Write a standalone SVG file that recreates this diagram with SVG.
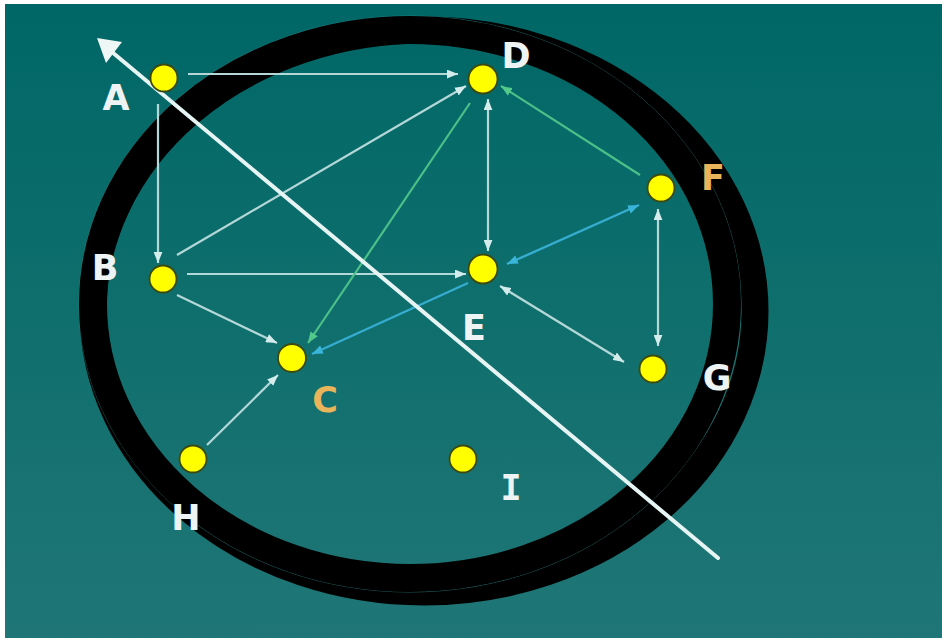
<svg xmlns="http://www.w3.org/2000/svg" width="942" height="639" viewBox="0 0 942 639">
<defs>
<linearGradient id="bg" x1="0" y1="0" x2="0" y2="1">
<stop offset="0" stop-color="#006766"/>
<stop offset="0.5" stop-color="#0f6f6d"/>
<stop offset="1" stop-color="#207676"/>
</linearGradient>
<marker id="mL" viewBox="0 0 10 8" refX="10" refY="4" markerWidth="11" markerHeight="9" markerUnits="userSpaceOnUse" orient="auto-start-reverse"><path d="M0,0 L10,4 L0,8 z" fill="#d4ecec"/></marker>
<marker id="mG" viewBox="0 0 10 8" refX="10" refY="4" markerWidth="11" markerHeight="9" markerUnits="userSpaceOnUse" orient="auto-start-reverse"><path d="M0,0 L10,4 L0,8 z" fill="#52c88a"/></marker>
<marker id="mB" viewBox="0 0 10 8" refX="10" refY="4" markerWidth="11" markerHeight="9" markerUnits="userSpaceOnUse" orient="auto-start-reverse"><path d="M0,0 L10,4 L0,8 z" fill="#3ab4d8"/></marker>
</defs>
<style>
.ring{fill:none;stroke:#000}
.node{fill:#ffff00;stroke:#3c4a10;stroke-width:1.8}
.lbl{font-family:"DejaVu Sans","Liberation Sans",sans-serif;font-weight:bold;font-size:35px;text-anchor:middle;fill:#eef4f4}
.or{fill:#eab45a}
.lt{stroke:#b4d8d8;stroke-width:2.2;fill:none}
.gr{stroke:#4cc088;stroke-width:2.2;fill:none}
.bl{stroke:#36acd0;stroke-width:2.4;fill:none}
</style>
<rect x="0" y="0" width="942" height="639" fill="#ffffff"/>
<rect x="5" y="4" width="937" height="634" fill="url(#bg)"/>
<g id="ring">
<ellipse class="ring" cx="424" cy="311" rx="331" ry="281" stroke-width="27"/>
<ellipse cx="410" cy="304" rx="331" ry="288" fill="none" stroke="#2a8484" stroke-width="1" opacity="0.7"/>
<ellipse class="ring" cx="410" cy="304" rx="317" ry="274" stroke-width="28"/>
</g>
<g id="connectors">
<line class="lt" x1="188" y1="74" x2="458" y2="74" marker-end="url(#mL)"/>
<line class="lt" x1="158" y1="104" x2="158" y2="263" marker-end="url(#mL)"/>
<line class="lt" x1="177" y1="255" x2="466" y2="86" marker-end="url(#mL)"/>
<line class="lt" x1="187" y1="274" x2="466" y2="274" marker-end="url(#mL)"/>
<line class="lt" x1="177" y1="295" x2="277" y2="343" marker-end="url(#mL)"/>
<line class="lt" x1="207" y1="445" x2="278" y2="375" marker-end="url(#mL)"/>
<line class="gr" x1="470" y1="103" x2="308" y2="343" marker-end="url(#mG)"/>
<line class="gr" x1="640" y1="175" x2="501" y2="86" marker-end="url(#mG)"/>
<line class="lt" x1="488" y1="99" x2="488" y2="251" marker-start="url(#mL)" marker-end="url(#mL)"/>
<line class="bl" x1="507" y1="264" x2="639" y2="205" marker-start="url(#mB)" marker-end="url(#mB)"/>
<line class="bl" x1="468" y1="283" x2="312" y2="354" marker-end="url(#mB)"/>
<line class="lt" x1="500" y1="286" x2="624" y2="362" marker-start="url(#mL)" marker-end="url(#mL)"/>
<line class="lt" x1="658" y1="209" x2="658" y2="346" marker-start="url(#mL)" marker-end="url(#mL)"/>
<line x1="718" y1="558" x2="112" y2="52" stroke="#e6f4f4" stroke-width="4" stroke-linecap="round"/>
<polygon points="97,38 122,42 106,63" fill="#eef6f6"/>
</g>
<g id="A"><circle class="node" cx="164" cy="78" r="13.5"/><text class="lbl" x="116" y="110">A</text></g>
<g id="D"><circle class="node" cx="483" cy="79" r="14.5"/><text class="lbl" x="516" y="68">D</text></g>
<g id="F"><circle class="node" cx="661" cy="188" r="13.5"/><text class="lbl or" x="713" y="190">F</text></g>
<g id="B"><circle class="node" cx="163" cy="279" r="13.5"/><text class="lbl" x="105" y="280">B</text></g>
<g id="E"><circle class="node" cx="483" cy="269" r="14.5"/><text class="lbl" x="474" y="340">E</text></g>
<g id="C"><circle class="node" cx="292" cy="358" r="14"/><text class="lbl or" x="325" y="412">C</text></g>
<g id="G"><circle class="node" cx="653" cy="369" r="13.5"/><text class="lbl" x="717" y="390">G</text></g>
<g id="H"><circle class="node" cx="193" cy="459" r="13.5"/><text class="lbl" x="186" y="530">H</text></g>
<g id="I"><circle class="node" cx="463" cy="459" r="13.5"/><text class="lbl" x="511" y="500" style="font-family:'DejaVu Sans Mono','Liberation Mono',monospace">I</text></g>
</svg>
